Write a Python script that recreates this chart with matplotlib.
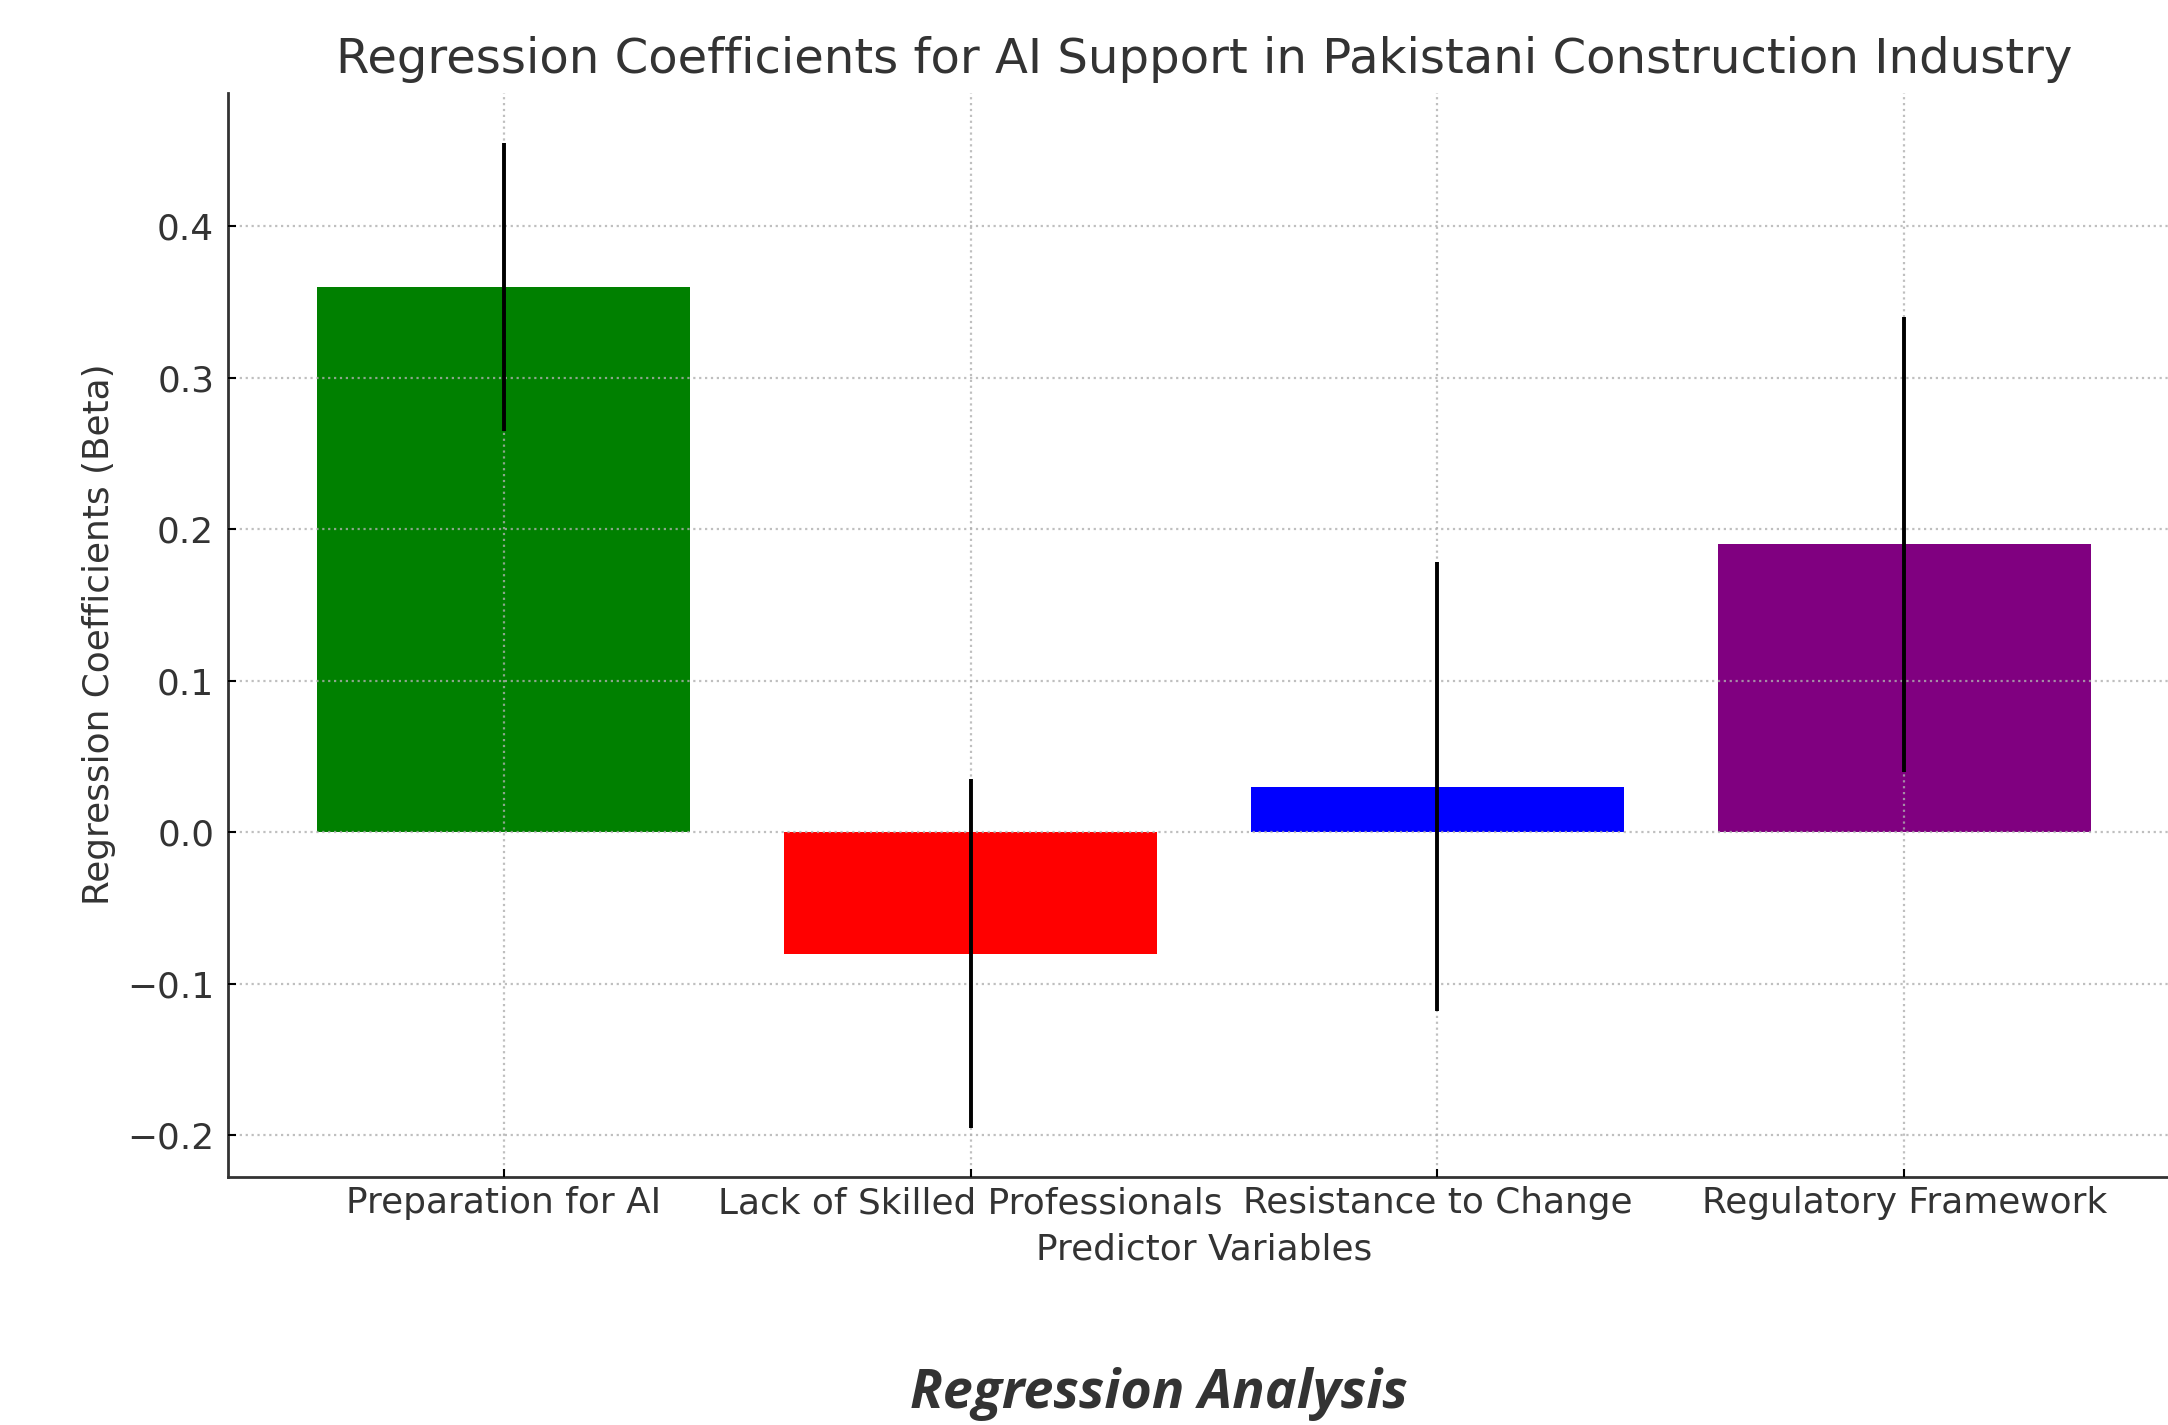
import matplotlib
matplotlib.use("Agg")
import matplotlib.pyplot as plt

# data
predictors = ['Preparation for AI', 'Lack of Skilled Professionals',
              'Resistance to Change', 'Regulatory Framework']
coefficients = [0.36, -0.08, 0.03, 0.19]
errors = [0.095, 0.115, 0.148, 0.150]
bar_colors = ['green', 'red', 'blue', 'purple']

text_color = '#333333'

fig = plt.figure(figsize=(21.68, 14.25), dpi=100)
ax = fig.add_axes([0.1052, 0.1743, 0.9003, 0.7607])

ax.bar(predictors, coefficients, yerr=errors, color=bar_colors, width=0.8,
       error_kw=dict(ecolor='black', elinewidth=2.8, capsize=0, zorder=3))

ax.set_ylim(-0.2272, 0.488)
ax.set_xlim(-0.59, 3.59)

# grid drawn on top of the bars, light and dotted
ax.set_axisbelow(False)
ax.grid(True, linestyle=':', color='#b0b0b0', linewidth=1.6, alpha=0.8)

for side in ['top', 'right']:
    ax.spines[side].set_visible(False)
for side in ['left', 'bottom']:
    ax.spines[side].set_linewidth(2.0)
    ax.spines[side].set_color('#333333')

ax.tick_params(axis='both', direction='in', length=6, width=1.5,
               labelsize=25.8, labelcolor=text_color)
ax.tick_params(axis='x', pad=7)
ax.tick_params(axis='y', pad=10)
ax.set_yticks([-0.2, -0.1, 0.0, 0.1, 0.2, 0.3, 0.4])

ax.set_title('Regression Coefficients for AI Support in Pakistani Construction Industry',
             fontsize=34.7, color=text_color, pad=14)
ax.set_xlabel('Predictor Variables', fontsize=25.8, color=text_color, labelpad=9)
ax.set_ylabel('Regression Coefficients (Beta)', fontsize=25.8, color=text_color, labelpad=8)

fig.text(0.5346, 0.0215, 'Regression Analysis', family='Open Sans', weight='bold',
         style='italic', fontsize=38.8, color='#333333', ha='center', va='center')

fig.savefig('out.png', dpi=100, facecolor='white')
